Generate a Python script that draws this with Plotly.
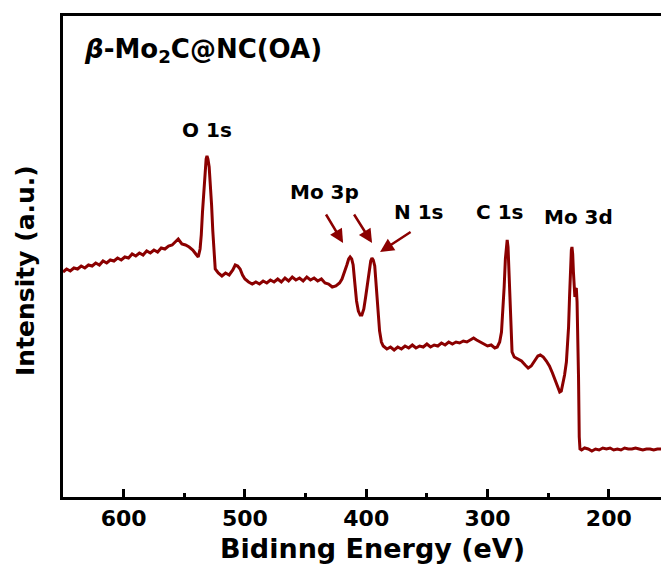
import plotly.graph_objects as go

# Binding energy (eV) and intensity (a.u.)
energy = [650, 647, 644, 641, 638, 635, 632, 629, 626, 623, 620, 617, 614, 611, 608, 605, 602, 599, 596, 593,
          590, 587, 584, 581, 578, 575, 572, 569, 566, 563, 560, 557, 555, 552, 549, 546, 543, 540.5, 538.5, 537,
          536, 535, 534, 533, 532, 531.3, 530.5, 529.5, 528.5, 527.5, 526.5, 525.5, 524.5, 522, 519, 516, 513, 510,
          508, 506, 504, 502, 500, 497, 494, 491, 488, 485, 482, 479, 476, 473, 470, 467, 464, 461, 458, 455, 452,
          449, 446, 443, 440, 437, 434, 431, 428, 425, 422, 420, 418, 416, 414.5, 413.3, 412, 410.8, 409.5, 408,
          406.5, 405, 403.6, 402, 400.5, 399, 397.5, 396.3, 395.3, 394.2, 393, 392, 391, 390, 389, 387.5, 386, 383,
          380, 377, 374, 371, 368, 365, 362, 359, 356, 353, 350, 347, 344, 341, 338, 335, 332, 329, 326, 323, 320,
          317, 314, 311.5, 309, 306, 303, 300, 297, 294, 292, 290, 288.5, 287.3, 286.3, 285.3, 284.4, 283.8, 283.1,
          282.5, 281.8, 281, 280.4, 279.8, 278, 275, 272, 269, 266.5, 264, 261, 258.5, 256.5, 254, 251.5, 249,
          246.5, 244, 242, 240.5, 239.2, 237.8, 236.5, 235, 234, 233.2, 232.4, 231.6, 230.9, 230.4, 229.8, 229.2,
          228.6, 228, 227.3, 226.8, 226.2, 225.6, 225, 224.4, 223.8, 222.5, 220, 217, 214, 211, 208, 205, 202, 199,
          196, 193, 190, 187, 184, 181, 178, 175, 172, 169, 166, 163, 160, 157]
intensity = [225, 228, 226, 229, 228, 231, 229, 232, 231, 234, 232, 236, 234, 237, 236, 239, 237, 240, 239, 243,
             241, 244, 242, 246, 244, 247, 245, 249, 248, 251, 252, 256, 258, 253, 252, 250, 247, 243, 240, 248,
             262, 285, 305, 325, 338, 341, 338, 330, 315, 292, 266, 240, 228, 224, 221, 224, 222, 227,
             232, 231, 228, 222, 218, 215, 213, 215, 213, 216, 214, 217, 215, 218, 215, 219, 216, 220, 217, 219, 216,
             220, 217, 219, 216, 218, 214, 213, 210, 211, 214, 218, 224, 232, 238, 240, 238, 232, 215, 196,
             186, 182, 182, 188, 200, 213, 227, 236, 239, 237, 231, 215, 198, 180, 166, 155, 151, 148,
             150, 147, 150, 148, 151, 149, 152, 149, 151, 150, 153, 150, 152, 151, 154, 152, 155, 153, 155, 154, 156,
             155, 157, 159, 157, 155, 153, 151, 152, 149, 150, 155, 165, 185, 210, 238, 255, 257, 250,
             230, 215, 195, 165, 145, 140, 138, 136, 132, 129, 131, 136, 141, 142, 140, 136, 131,
             124, 116, 109, 105, 106, 113, 122, 135, 150, 170, 200, 230, 247, 250, 243, 225,
             203, 200, 208, 209, 195, 170, 120, 60, 48, 47, 49, 48, 46, 48, 47, 49, 48, 49,
             47, 48, 47, 49, 48, 48, 49, 48, 47, 48, 48, 47, 48, 48]

peak_labels = ["O 1s", "Mo 3p", "N 1s", "C 1s", "Mo 3d"]
peak_label_x = [531.2, 434.7, 356.4, 290.4, 225.3]
peak_label_y = [367, 305, 285, 285, 280]

x_ticks = [600, 500, 400, 300, 200]

LINE = "#8b0000"
FONT = "DejaVu Sans"

fig = go.Figure()
fig.add_trace(go.Scatter(x=energy, y=intensity, mode="lines",
                         line=dict(color=LINE, width=3), showlegend=False, hoverinfo="skip"))

annotations = []
for t, x, y in zip(peak_labels, peak_label_x, peak_label_y):
    annotations.append(dict(x=x, y=y, xref="x", yref="y", text="<b>%s</b>" % t, showarrow=False,
                            font=dict(family=FONT, size=20, color="black"),
                            xanchor="center", yanchor="middle"))

# arrows (tail -> head, in data units)
arrows = [((433.9, 284), (419.1, 254)), ((410.8, 284), (395.2, 254)), ((362.2, 266), (388.6, 245))]
for (tx, ty), (hx, hy) in arrows:
    annotations.append(dict(x=hx, y=hy, ax=tx, ay=ty, xref="x", yref="y", axref="x", ayref="y",
                            text="", showarrow=True, arrowhead=2, arrowsize=1.1, arrowwidth=2.5,
                            arrowcolor=LINE, standoff=0, startstandoff=0))

annotations.append(dict(x=0.032, y=0.929, xref="paper", yref="paper",
                        text="<b><i>β</i>-Mo<sub>2</sub>C@NC(OA)</b>", showarrow=False,
                        font=dict(family=FONT, size=26, color="black"),
                        xanchor="left", yanchor="middle"))
annotations.append(dict(x=-0.0619, y=0.472, xref="paper", yref="paper",
                        text="<b>Intensity (a.u.)</b>", showarrow=False, textangle=-90,
                        font=dict(family=FONT, size=25, color="black"),
                        xanchor="center", yanchor="middle"))
annotations.append(dict(x=0.517, y=-0.108, xref="paper", yref="paper",
                        text="<b>Bidinng Energy (eV)</b>", showarrow=False,
                        font=dict(family=FONT, size=27, color="black"),
                        xanchor="center", yanchor="middle"))

fig.update_layout(
    width=661, height=568,
    margin=dict(l=63, r=0, t=16, b=71),
    paper_bgcolor="white", plot_bgcolor="white",
    annotations=annotations,
    xaxis=dict(range=[650, 157], tickmode="array", tickvals=x_ticks, ticktext=[str(v) for v in x_ticks],
               ticks="inside", ticklen=8, tickwidth=2.5, tickcolor="black",
               minor=dict(dtick=50, tick0=0, ticks="inside", ticklen=4, tickwidth=2.5, tickcolor="black"),
               showline=True, linewidth=2.5, linecolor="black", mirror=True,
               showgrid=False, zeroline=False,
               tickfont=dict(family=FONT, size=22, color="black", weight="bold")),
    yaxis=dict(range=[0, 481], showticklabels=False, ticks="", showline=True, linewidth=2.5,
               linecolor="black", mirror=False, showgrid=False, zeroline=False),
)

fig.write_html("out.html")
